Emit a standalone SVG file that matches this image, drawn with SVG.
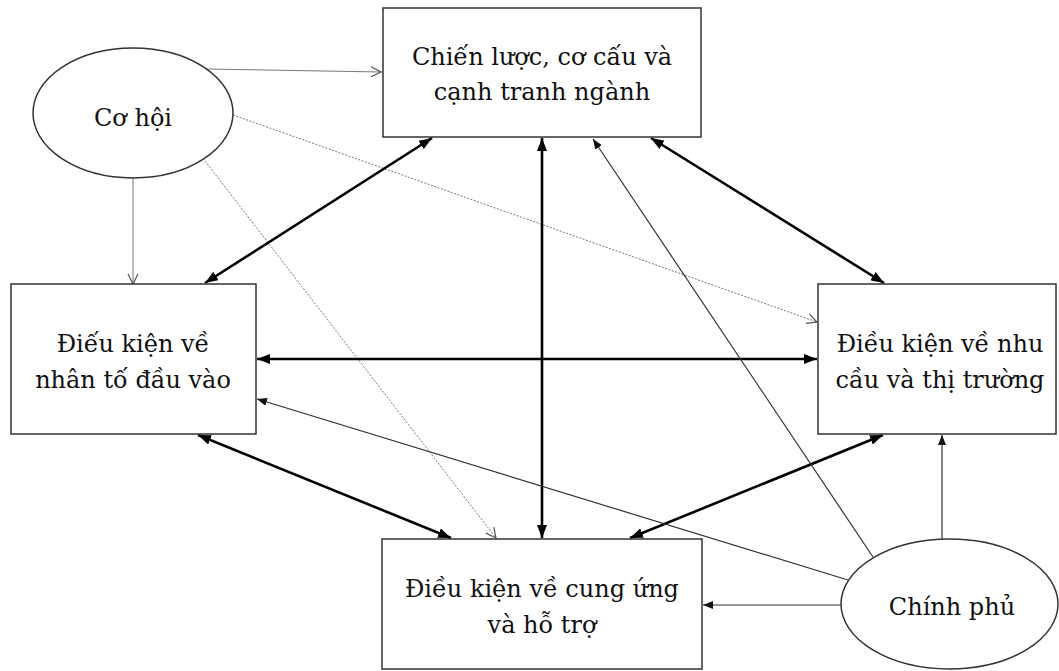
<svg xmlns="http://www.w3.org/2000/svg" width="1059" height="671" viewBox="0 0 1059 671">
<defs>
<style>
.box{fill:#fff;stroke:#333;stroke-width:1.5}
.t{font-family:'DejaVu Serif','Noto Serif',serif;font-size:24px;fill:#111;text-anchor:middle}
.thick{stroke:#000;stroke-width:2.6;fill:none;marker-start:url(#fa);marker-end:url(#fa)}
.thin{stroke:#333;stroke-width:1.2;fill:none;marker-end:url(#fs)}
.gray{stroke:#777;stroke-width:1;fill:none;marker-end:url(#oa)}
.dot{stroke:#777;stroke-width:1;stroke-dasharray:2 1.5;fill:none;marker-end:url(#oa)}
</style>
<marker id="fa" markerUnits="userSpaceOnUse" markerWidth="14" markerHeight="10" refX="13" refY="5" orient="auto-start-reverse"><path d="M0,0 L13,5 L0,10 z" fill="#000"/></marker>
<marker id="fs" markerUnits="userSpaceOnUse" markerWidth="11" markerHeight="8" refX="10" refY="4" orient="auto"><path d="M0,0 L10,4 L0,8 z" fill="#111"/></marker>
<marker id="oa" markerUnits="userSpaceOnUse" markerWidth="12" markerHeight="12" refX="11" refY="6" orient="auto"><path d="M1,1 L11,6 L1,11" fill="none" stroke="#555" stroke-width="1.2"/></marker>
</defs>
<rect width="1059" height="671" fill="#fff"/>
<g id="connectors">
<line class="gray" x1="206" y1="69" x2="381" y2="72"/>
<line class="gray" x1="133" y1="178" x2="133" y2="284"/>
<line class="dot" x1="233" y1="115" x2="817" y2="322"/>
<line class="dot" x1="205" y1="161" x2="496" y2="538"/>
<line class="thick" x1="432" y1="138" x2="205" y2="283"/>
<line class="thick" x1="542" y1="138" x2="542" y2="538"/>
<line class="thick" x1="651" y1="138" x2="884" y2="283"/>
<line class="thick" x1="257" y1="359" x2="817" y2="359"/>
<line class="thick" x1="198" y1="435" x2="451" y2="538"/>
<line class="thick" x1="883" y1="435" x2="630" y2="538"/>
<line class="thin" x1="873" y1="557" x2="593" y2="139"/>
<line class="thin" x1="848" y1="580" x2="257" y2="399"/>
<line class="thin" x1="942" y1="539" x2="942" y2="435"/>
<line class="thin" x1="841" y1="605" x2="703" y2="605"/>
</g>
<g id="node-chien-luoc">
<rect class="box" x="383" y="8" width="318" height="129"/>
<text class="t" x="542" y="65">Chiến lược, cơ cấu và</text>
<text class="t" x="542" y="100">cạnh tranh ngành</text>
</g>
<g id="node-co-hoi">
<ellipse class="box" cx="133" cy="113" rx="100" ry="65"/>
<text class="t" x="133" y="126">Cơ hội</text>
</g>
<g id="node-nhan-to">
<rect class="box" x="11" y="284" width="245" height="150"/>
<text class="t" x="133" y="352">Điếu kiện về</text>
<text class="t" x="133" y="388">nhân tố đầu vào</text>
</g>
<g id="node-nhu-cau">
<rect class="box" x="818" y="284" width="238" height="150"/>
<text class="t" x="940" y="352">Điều kiện về nhu</text>
<text class="t" x="940" y="388">cầu và thị trường</text>
</g>
<g id="node-cung-ung">
<rect class="box" x="382" y="539" width="320" height="130"/>
<text class="t" x="542" y="597">Điều kiện về cung ứng</text>
<text class="t" x="542" y="633">và hỗ trợ</text>
</g>
<g id="node-chinh-phu">
<ellipse class="box" cx="949.5" cy="604" rx="108.5" ry="65"/>
<text class="t" x="952" y="615">Chính phủ</text>
</g>
</svg>
